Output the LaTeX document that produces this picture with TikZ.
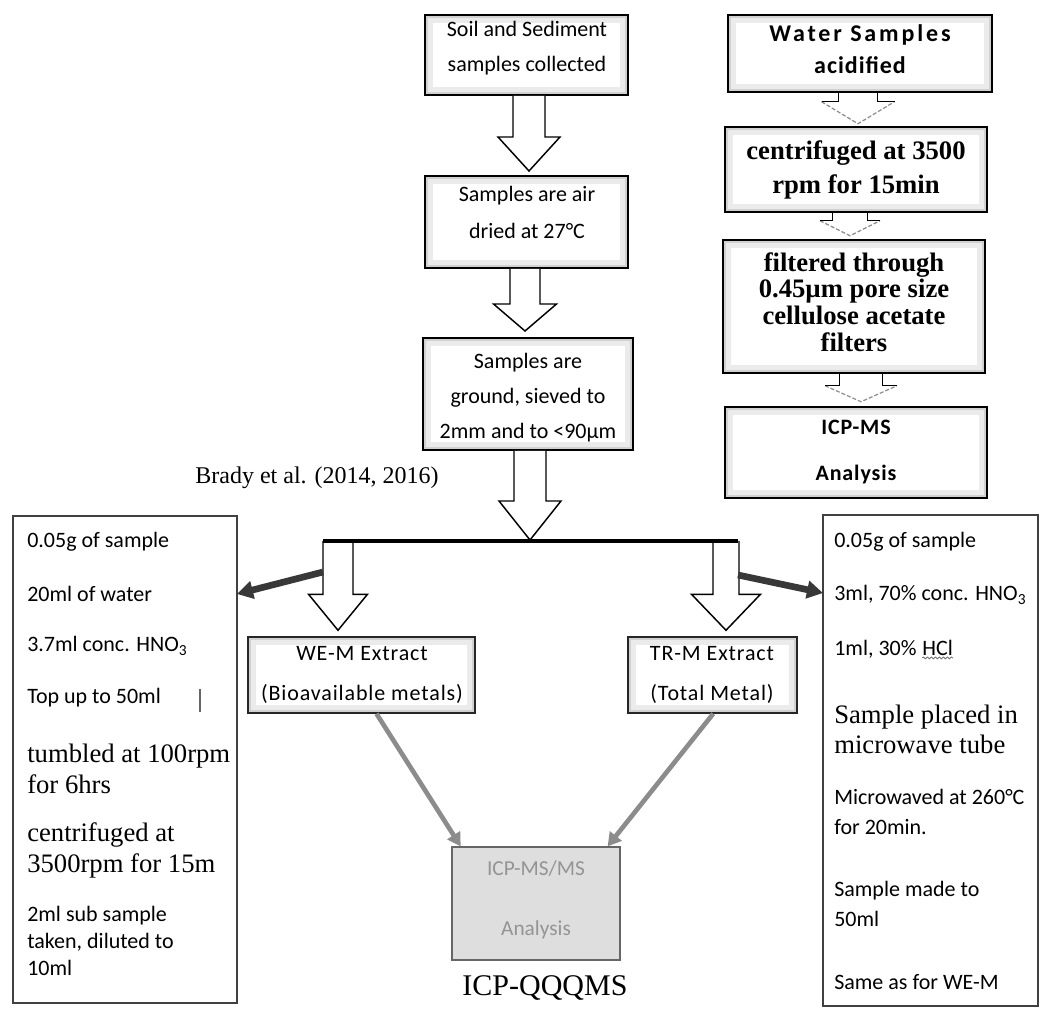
\documentclass[tikz,border=0pt]{standalone}
\usepackage{fontspec}
\setmainfont{Liberation Serif}
\newfontfamily\calfont{Carlito}
\newfontfamily\calspfont[LetterSpace=12]{Carlito}
\newfontfamily\calmspfont[LetterSpace=4]{Carlito}
\usetikzlibrary{arrows.meta,calc,fit,decorations.pathmorphing}
\def\pxu{0.75pt}
% block arrow: #1 start, #2 tip, #3 x offset of centre (px), #4 shaft half width, #5 head half width, #6 head length, #7 style
\newcommand\blockarrow[7]{%
 \draw[#7] let \p1=(#1), \p2=(#2) in
  ({\x1+(#3-#4)*\pxu},\y1) -- ({\x1+(#3-#4)*\pxu},{\y2+#6*\pxu}) -- ({\x1+(#3-#5)*\pxu},{\y2+#6*\pxu}) -- ({\x1+#3*\pxu},\y2) -- ({\x1+(#3+#5)*\pxu},{\y2+#6*\pxu}) -- ({\x1+(#3+#4)*\pxu},{\y2+#6*\pxu}) -- ({\x1+(#3+#4)*\pxu},\y1);}
\newcommand\wblockarrow[6]{%
 \draw[warrhead] let \p1=(#1), \p2=(#2) in
  ({\x1+(#3-#5)*\pxu},{\y2+#6*\pxu}) -- ({\x1+#3*\pxu},\y2) -- ({\x1+(#3+#5)*\pxu},{\y2+#6*\pxu});
 \draw[warrshaft] let \p1=(#1), \p2=(#2) in
  ({\x1+(#3-#5)*\pxu},{\y2+#6*\pxu}) -- ({\x1+(#3-#4)*\pxu},{\y2+#6*\pxu}) -- ({\x1+(#3-#4)*\pxu},\y1)
  ({\x1+(#3+#5)*\pxu},{\y2+#6*\pxu}) -- ({\x1+(#3+#4)*\pxu},{\y2+#6*\pxu}) -- ({\x1+(#3+#4)*\pxu},\y1);}
\begin{document}
\begin{tikzpicture}[x=0.75pt,y=-0.75pt,
  glow/.style={path picture={\draw[black!8,line width=12pt] (path picture bounding box.south west) rectangle (path picture bounding box.north east);
      \draw[black!18,line width=4pt] (path picture bounding box.south west) rectangle (path picture bounding box.north east);}},
  sbox/.style={rectangle, draw=black, line width=1.5pt, fill=white, inner sep=0pt, glow},
  wbox/.style={rectangle, draw=black, line width=1.9pt, fill=white, inner sep=0pt, glow},
  ebox/.style={rectangle, draw=black!85, line width=1.1pt, fill=white, inner sep=0pt, glow},
  sidebox/.style={rectangle, draw=black!75, line width=0.8pt, fill=white, inner sep=0pt},
  icpbox/.style={rectangle, draw=black!60, line width=0.9pt, fill=black!13, inner sep=0pt},
  ctext/.style={align=center, inner sep=0pt},
  ltext/.style={align=left, inner sep=0pt, anchor=west},
  calt/.style={font=\calfont\fontsize{16.5}{20.25}\selectfont},
  sert/.style={font=\fontsize{20}{23.25}\selectfont},
  barr/.style={draw=black, line width=1.1pt, fill=white, line join=miter},
  warrhead/.style={draw=black!45, line width=0.9pt, dash pattern=on 3pt off 1.5pt},
  warrshaft/.style={draw=black, line width=1.1pt},
  thickarr/.style={draw=black!78, line width=5pt, -{Triangle[length=12pt,width=13pt]}},
  diagarr/.style={draw=black!45, line width=3.5pt, -{Triangle[length=10pt,width=11pt]}},
  wavy/.style={draw=black!55, line width=0.6pt, decorate, decoration={snake, amplitude=0.7pt, segment length=3pt}}
]
\useasboundingbox (0,0) rectangle (1043,1012);
\fill[white] (0,0) rectangle (1043,1012);

% soil column
\node[sbox, fit={(425,15) (628,95)}] (s1) {};
\node[ctext, font=\calfont\fontsize{16.5}{26.25}\selectfont] (s1t) at (527,48.5) {Soil and Sediment\\samples collected};
\node[sbox, fit={(425,176) (628,268)}] (s2) {};
\node[ctext, font=\calfont\fontsize{16.5}{27.75}\selectfont] (s2t) at (527,212.5) {Samples are air\\dried at 27°C};
\node[sbox, fit={(423,338) (633,450)}] (s3) {};
\node[ctext, font=\calfont\fontsize{16.5}{26.25}\selectfont] (s3t) at (528,398) {Samples are\\ground, sieved to\\2mm and to <90µm};

% water column
\node[wbox, fit={(728,15) (992,92)}] (w1) {};
\node[ctext, font=\fontsize{18}{24}\selectfont] (w1t) at (860,49) {{\calspfont\bfseries Water Samples}\\{\calmspfont\bfseries acidified}};
\node[wbox, fit={(725,127) (987,212)}] (w2) {};
\node[ctext, font=\bfseries\fontsize{20}{26}\selectfont] (w2t) at (856,170) {centrifuged at 3500\\rpm for 15min};
\node[wbox, fit={(723,240) (985,373)}] (w3) {};
\node[ctext, font=\bfseries\fontsize{20}{20}\selectfont] (w3t) at (854,302) {filtered through\\0.45µm pore size\\cellulose acetate\\filters};
\node[wbox, fit={(725,407) (987,498)}] (w4) {};
\node[ctext, font=\calmspfont\bfseries\fontsize{16.5}{34.5}\selectfont] (w4t) at (856,452) {ICP-MS\\Analysis};

% reference
\node[ctext, font=\fontsize{18}{20}\selectfont] (brady) at (317,478) {Brady et al. (2014, 2016)};

% split bar
\coordinate (barL) at (323,541);
\coordinate (barR) at (738,541);
\coordinate (barM) at (530,540);

% extract boxes
\node[ebox, fit={(248,637) (475,713)}] (we) {};
\node[ctext, font=\calmspfont\fontsize{16.5}{30}\selectfont] (wet) at (362,675) {WE-M Extract\\(Bioavailable metals)};
\node[ebox, fit={(628,637) (797,713)}] (tr) {};
\node[ctext, font=\calmspfont\fontsize{16.5}{30}\selectfont] (trt) at (712,675) {TR-M Extract\\(Total Metal)};

% ICP-MS/MS
\node[icpbox, fit={(452,847) (620,960)}] (icp) {};
\node[ctext, text=black!42, font=\calfont\fontsize{16}{45}\selectfont] (icpt) at (536,900) {ICP-MS/MS\\Analysis};
\node[ctext, font=\fontsize{22.5}{24}\selectfont] (qqq) at (545,988) {ICP-QQQMS};

% side boxes
\node[sidebox, fit={(13,516) (237,1003)}] (lbox) {};
\node[ltext, calt] (l1) at (27,542) {0.05g of sample};
\node[ltext, calt] (l2) at (27,594) {20ml of water};
\node[ltext, calt] (l3) at (27,646) {3.7ml conc. HNO\textsubscript{3}};
\node[ltext, calt] (l4) at (27,698) {Top up to 50ml};
\draw[black!60, line width=0.8pt] (200,689) -- (200,712);
\node[ltext, sert] (l5) at (27,769) {tumbled at 100rpm\\for 6hrs};
\node[ltext, sert] (l6) at (27,850) {centrifuged at\\3500rpm for 15m};
\node[ltext, calt] (l7) at (27,941) {2ml sub sample\\taken, diluted to\\10ml};

\node[sidebox, fit={(823,515) (1038,1006)}] (rbox) {};
\node[ltext, calt] (r1) at (834,542) {0.05g of sample};
\node[ltext, calt] (r2) at (834,595) {3ml, 70\% conc. HNO\textsubscript{3}};
\node[ltext, calt] (r3) at (834,649) {1ml, 30\%};
\node[calt, inner sep=0pt, anchor=base west] (r3b) at ([xshift=4pt]r3.base east) {HCl};
\draw[wavy] ([yshift=-2pt]r3b.base west) -- ([yshift=-2pt]r3b.base east);
\node[ltext, font=\fontsize{20}{22.5}\selectfont] (r4) at (834,729) {Sample placed in\\microwave tube};
\node[ltext, font=\calfont\fontsize{16.5}{22}\selectfont] (r5) at (834,812) {Microwaved at 260°C\\for 20min.};
\node[ltext, font=\calfont\fontsize{16.5}{23}\selectfont] (r6) at (834,904) {Sample made to\\50ml};
\node[ltext, calt] (r7) at (834,982) {Same as for WE-M};

% block arrows, soil column
\blockarrow{s1.south}{[yshift=3pt]s2.north}{2.5}{16}{31}{34}{barr}
\blockarrow{s2.south}{[yshift=4.5pt]s3.north}{-1.5}{15}{31.5}{27}{barr}
\blockarrow{s3.south}{barM}{2}{16}{31}{39}{barr}
\blockarrow{barL}{[yshift=4.5pt]we.north}{15}{15}{29.5}{36}{barr}
\blockarrow{barR}{[yshift=4.5pt]tr.north}{-12}{13}{34.5}{36}{barr}
\draw[black, line width=3pt] (barL) -- (barR);

% block arrows, water column
\wblockarrow{w1.south}{[yshift=1.5pt]w2.north}{-2}{19.5}{36.5}{22}
\wblockarrow{w2.south}{[yshift=2.25pt]w3.north}{-6}{17.5}{30}{15}
\wblockarrow{w3.south}{[yshift=3pt]w4.north}{7}{21.5}{36}{16}

% thick side arrows
\coordinate (lgo) at (323,572);
\coordinate (lbt) at (237,594);
\coordinate (rgo) at (738,575);
\coordinate (rbt) at (823,593);
\draw[thickarr] (lgo) -- (lbt);
\draw[thickarr] (rgo) -- (rbt);

% diagonal arrows to ICP-MS/MS
\draw[diagarr] ([xshift=11.25pt]we.south) -- ([xshift=7pt]icp.north west);
\draw[diagarr] ([xshift=0.5pt]tr.south) -- ([xshift=-9.75pt]icp.north east);
\end{tikzpicture}
\end{document}
